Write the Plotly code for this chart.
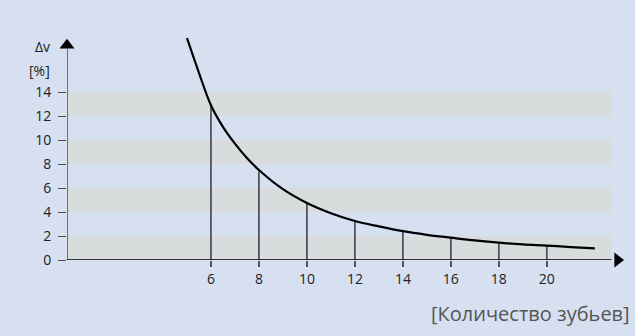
import plotly.graph_objects as go

# curve: speed variation Δv [%] vs number of teeth
teeth = [5, 5.5, 6, 6.5, 7, 7.5, 8, 9, 10, 11, 12, 13, 14, 15, 16, 17, 18, 19, 20, 21, 22]
dv = [18.5, 15.6, 12.9, 11.1, 9.7, 8.5, 7.5, 5.9, 4.75, 3.9, 3.25, 2.8, 2.4, 2.1, 1.86, 1.63, 1.44, 1.3, 1.2, 1.08, 0.97]

# drop lines at even tooth counts
drop_x = [6, 8, 10, 12, 14, 16, 18, 20]
drop_y = [12.9, 7.5, 4.75, 3.25, 2.4, 1.86, 1.44, 1.2]

x_ticks = [6, 8, 10, 12, 14, 16, 18, 20]
y_ticks = [0, 2, 4, 6, 8, 10, 12, 14]
bands = [(0, 2), (4, 6), (8, 10), (12, 14)]

BG = "#d6e0f0"
BAND = "#d8dcdd"
XMAX = 23.3
YMAX = 18.5

fig = go.Figure()

# drop lines
dx, dy = [], []
for x, y in zip(drop_x, drop_y):
    dx += [x, x, None]
    dy += [0, y, None]
fig.add_trace(go.Scatter(x=dx, y=dy, mode="lines",
                         line=dict(color="#50545c", width=1.8),
                         hoverinfo="skip", showlegend=False))

# curve
fig.add_trace(go.Scatter(x=teeth, y=dv, mode="lines",
                         line=dict(color="#000000", width=2.2, shape="spline"),
                         showlegend=False, cliponaxis=False))

# axis arrows
fig.add_trace(go.Scatter(x=[0, 0], y=[0, 17.6], mode="lines",
                         line=dict(color="#50545c", width=1.6),
                         hoverinfo="skip", showlegend=False, cliponaxis=False))
fig.add_trace(go.Scatter(x=[0], y=[17.9], mode="markers",
                         marker=dict(symbol="triangle-up", size=13, color="#000000"),
                         hoverinfo="skip", showlegend=False, cliponaxis=False))
fig.add_trace(go.Scatter(x=[0, 22.7], y=[0, 0], mode="lines",
                         line=dict(color="#000000", width=1.5),
                         hoverinfo="skip", showlegend=False, cliponaxis=False))
fig.add_trace(go.Scatter(x=[22.95], y=[0], mode="markers",
                         marker=dict(symbol="triangle-right", size=13, color="#000000"),
                         hoverinfo="skip", showlegend=False, cliponaxis=False))

shapes = []
for y0, y1 in bands:
    shapes.append(dict(type="rect", xref="x", yref="y", x0=0, x1=22.7, y0=y0, y1=y1,
                       fillcolor=BAND, line=dict(width=0), layer="below"))

annotations = [
    dict(x=-0.027, y=0.963, xref="paper", yref="paper", text="Δv", showarrow=False,
         xanchor="right", yanchor="middle", font=dict(size=14, color="#222222")),
    dict(x=-0.027, y=0.855, xref="paper", yref="paper", text="[%]", showarrow=False,
         xanchor="right", yanchor="middle", font=dict(size=14, color="#222222")),
    dict(x=1.01, y=-0.243, xref="paper", yref="paper", text="[Количество зубьев]", showarrow=False,
         xanchor="right", yanchor="middle", font=dict(size=20, color="#555555")),
]

fig.update_layout(
    width=635, height=336,
    margin=dict(l=67, r=9, t=38, b=76),
    paper_bgcolor=BG, plot_bgcolor=BG,
    font=dict(family="Open Sans", size=14, color="#222222"),
    shapes=shapes, annotations=annotations,
    xaxis=dict(range=[0, XMAX], tickvals=x_ticks, ticktext=[str(v) for v in x_ticks],
               showgrid=False, zeroline=False, showline=False,
               ticks="outside", ticklen=6, tickwidth=1.8, tickcolor="#50545c",
               tickfont=dict(size=14, color="#222222")),
    yaxis=dict(range=[0, YMAX], tickvals=y_ticks, ticktext=[str(v) for v in y_ticks],
               showgrid=False, zeroline=False, showline=False,
               ticks="outside", ticklen=8, tickwidth=1, tickcolor="#50545c",
               ticklabelstandoff=4,
               tickfont=dict(size=14, color="#222222")),
)

fig.write_html("out.html", config={"displayModeBar": False},
               post_script="document.body.style.margin='0';")
